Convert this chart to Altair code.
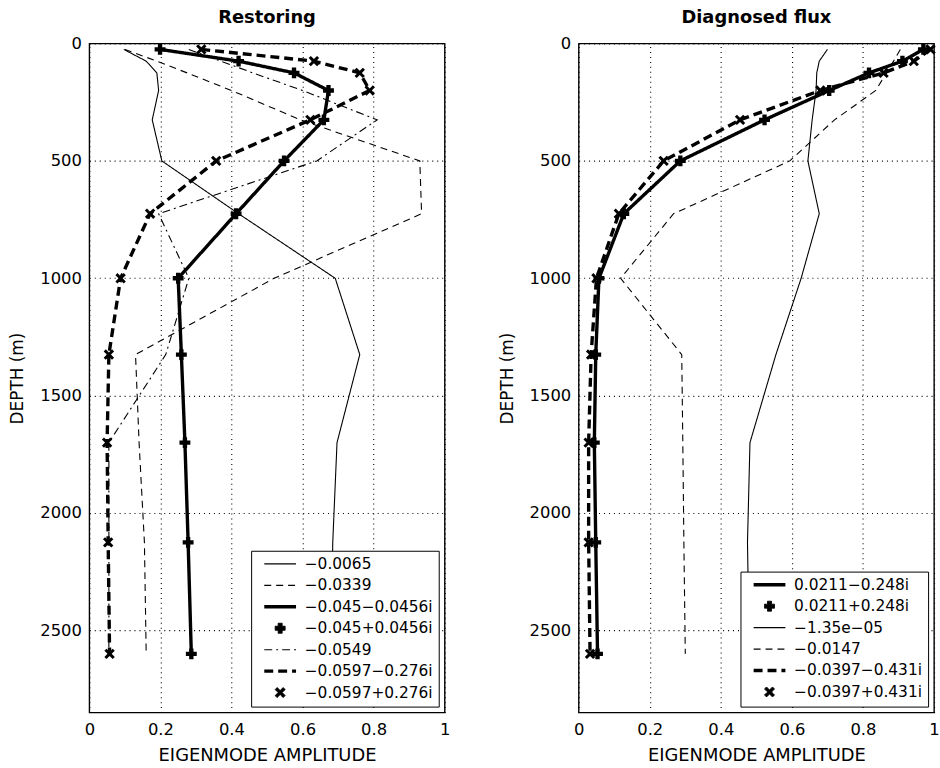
import altair as alt
import pandas as pd

depth = [25, 75, 125, 200, 325, 500, 725, 1000, 1325, 1700, 2125, 2600]
x_ticks = [0, 0.2, 0.4, 0.6, 0.8, 1]
y_ticks = [0, 500, 1000, 1500, 2000, 2500]

# ---- Restoring panel: eigenmode amplitude at each depth ----
res_labels = ["\u22120.0065", "\u22120.0339", "\u22120.045\u22120.0456i", "\u22120.045+0.0456i",
              "\u22120.0549", "\u22120.0597\u22120.276i", "\u22120.0597+0.276i"]
res_0065 = [0.097, 0.16, 0.19, 0.195, 0.177, 0.204, 0.42, 0.692, 0.761, 0.697, 0.685, 0.68]
res_0339 = [0.10, 0.19, 0.275, 0.40, 0.594, 0.93, 0.935, 0.52, 0.13, 0.14, 0.155, 0.16]
res_045 = [0.199, 0.42, 0.576, 0.673, 0.66, 0.548, 0.413, 0.25, 0.259, 0.269, 0.278, 0.287]
res_0549 = [0.28, 0.37, 0.46, 0.60, 0.81, 0.64, 0.195, 0.28, 0.215, 0.055, 0.055, 0.055]
res_0597 = [0.315, 0.632, 0.761, 0.789, 0.622, 0.357, 0.171, 0.088, 0.055, 0.05, 0.053, 0.057]
res_values = [res_0065, res_0339, res_045, res_045, res_0549, res_0597, res_0597]
res_styles = ["thin", "dashed", "thick", "plus", "dashdot", "thickdash", "xmark"]

# ---- Diagnosed flux panel ----
dia_labels = ["0.0211\u22120.248i", "0.0211+0.248i", "\u22121.35e\u221205", "\u22120.0147",
              "\u22120.0397\u22120.431i", "\u22120.0397+0.431i"]
dia_0211 = [0.97, 0.911, 0.817, 0.705, 0.523, 0.286, 0.127, 0.057, 0.048, 0.044, 0.048, 0.053]
dia_135 = [0.70, 0.677, 0.67, 0.668, 0.657, 0.645, 0.677, 0.626, 0.555, 0.482, 0.475, 0.48]
dia_0147 = [0.905, 0.886, 0.866, 0.836, 0.72, 0.594, 0.267, 0.118, 0.29, 0.293, 0.296, 0.30]
dia_0397 = [0.99, 0.943, 0.858, 0.68, 0.454, 0.239, 0.113, 0.05, 0.035, 0.028, 0.028, 0.032]
dia_values = [dia_0211, dia_0211, dia_135, dia_0147, dia_0397, dia_0397]
dia_styles = ["thick", "plus", "thin", "dashed", "thickdash", "xmark"]

LINE = "M-3.2,0L3.2,0"
XMARK = "M-1,-0.6L-0.6,-1L0,-0.4L0.6,-1L1,-0.6L0.4,0L1,0.6L0.6,1L0,0.4L-0.6,1L-1,0.6L-0.4,0Z"

STYLES = {
    "thin": {"kind": "line", "dash": [1, 0], "width": 1.1},
    "dashed": {"kind": "line", "dash": [7, 5], "width": 1.1},
    "thick": {"kind": "line", "dash": [1, 0], "width": 3.4},
    "dashdot": {"kind": "line", "dash": [8, 4, 2, 4], "width": 1.1},
    "thickdash": {"kind": "line", "dash": [9, 5], "width": 3.4},
    "plus": {"kind": "point", "shape": "cross", "size": 120},
    "xmark": {"kind": "point", "shape": XMARK, "size": 110},
}

FONT = "DejaVu Sans"


def panel(title, labels, values, styles):
    rows = [{"series": lab, "depth": d, "amp": a}
            for lab, vals in zip(labels, values) for d, a in zip(depth, vals)]
    df = pd.DataFrame(rows)
    x = alt.X("amp:Q", scale=alt.Scale(domain=[0, 1], nice=False, zero=False),
              axis=alt.Axis(values=x_ticks, format="~g", labelFlush=False,
                            title="EIGENMODE AMPLITUDE", titleFontSize=18,
                            labelPadding=9, titlePadding=9))
    y = alt.Y("depth:Q", scale=alt.Scale(domain=[0, 2850], reverse=True, nice=False, zero=False),
              axis=alt.Axis(values=y_ticks, format="d", title="DEPTH (m)", titleFontSize=17,
                            labelPadding=8, titlePadding=13))
    base = alt.Chart(df)
    layers = []
    for lab, sty in zip(labels, styles):
        st = STYLES[sty]
        sub = base.transform_filter(alt.datum.series == lab)
        if st["kind"] == "line":
            layers.append(sub.mark_line(color="black", strokeWidth=st["width"],
                                        strokeDash=st["dash"], clip=True)
                          .encode(x=x, y=y, order=alt.Order("depth:Q")))
        else:
            layers.append(sub.mark_point(shape=st["shape"], filled=True, color="black",
                                         size=st["size"], opacity=1)
                          .encode(x=x, y=y))
    legend = alt.Legend(title=None, orient="bottom-right", offset=6, padding=5.5,
                        fillColor="white", strokeColor="black",
                        labelFont=FONT, labelFontSize=15.5, labelColor="black",
                        rowPadding=4.6, symbolSize=100, symbolOffset=16, labelOffset=17,
                        symbolLimit=0, labelLimit=300)
    leg_df = pd.DataFrame({"series": labels})
    shapes = [LINE if STYLES[s]["kind"] == "line" else STYLES[s]["shape"] for s in styles]
    dashes = [STYLES[s].get("dash", [1, 0]) for s in styles]
    widths = [STYLES[s].get("width", 1) for s in styles]
    leg_layer = alt.Chart(leg_df).mark_point(filled=True, color="black", stroke="black",
                                             opacity=0, size=100).encode(
        shape=alt.Shape("series:N", scale=alt.Scale(domain=labels, range=shapes), legend=legend),
        strokeDash=alt.StrokeDash("series:N", scale=alt.Scale(domain=labels, range=dashes), legend=legend),
        strokeWidth=alt.StrokeWidth("series:N", scale=alt.Scale(type="ordinal", domain=labels, range=widths),
                                    legend=legend),
    )
    return alt.layer(*layers, leg_layer).properties(width=358, height=674, title=title)


left = panel("Restoring", res_labels, res_values, res_styles)
right = panel("Diagnosed flux", dia_labels, dia_values, dia_styles)

chart = alt.hconcat(left, right, spacing=47).resolve_scale(
    shape="independent", strokeDash="independent", strokeWidth="independent"
).resolve_legend(
    shape="independent", strokeDash="independent", strokeWidth="independent"
).properties(
    padding={"left": 8, "top": 5, "right": 0, "bottom": 0}
).configure_view(stroke="black", strokeWidth=1.4).configure_axis(
    labelFont=FONT, labelFontSize=16.5, labelColor="black",
    titleFont=FONT, titleFontWeight="normal", titleColor="black",
    grid=True, gridColor="black", gridDash=[1, 4], gridWidth=1.1, gridOpacity=1,
    domain=False, ticks=False
).configure_title(
    font=FONT, fontSize=18, fontWeight="bold", color="black", anchor="middle",
    frame="group", baseline="alphabetic", offset=9
)

chart.save("out.html", embed_options={"renderer": "svg", "actions": False})
